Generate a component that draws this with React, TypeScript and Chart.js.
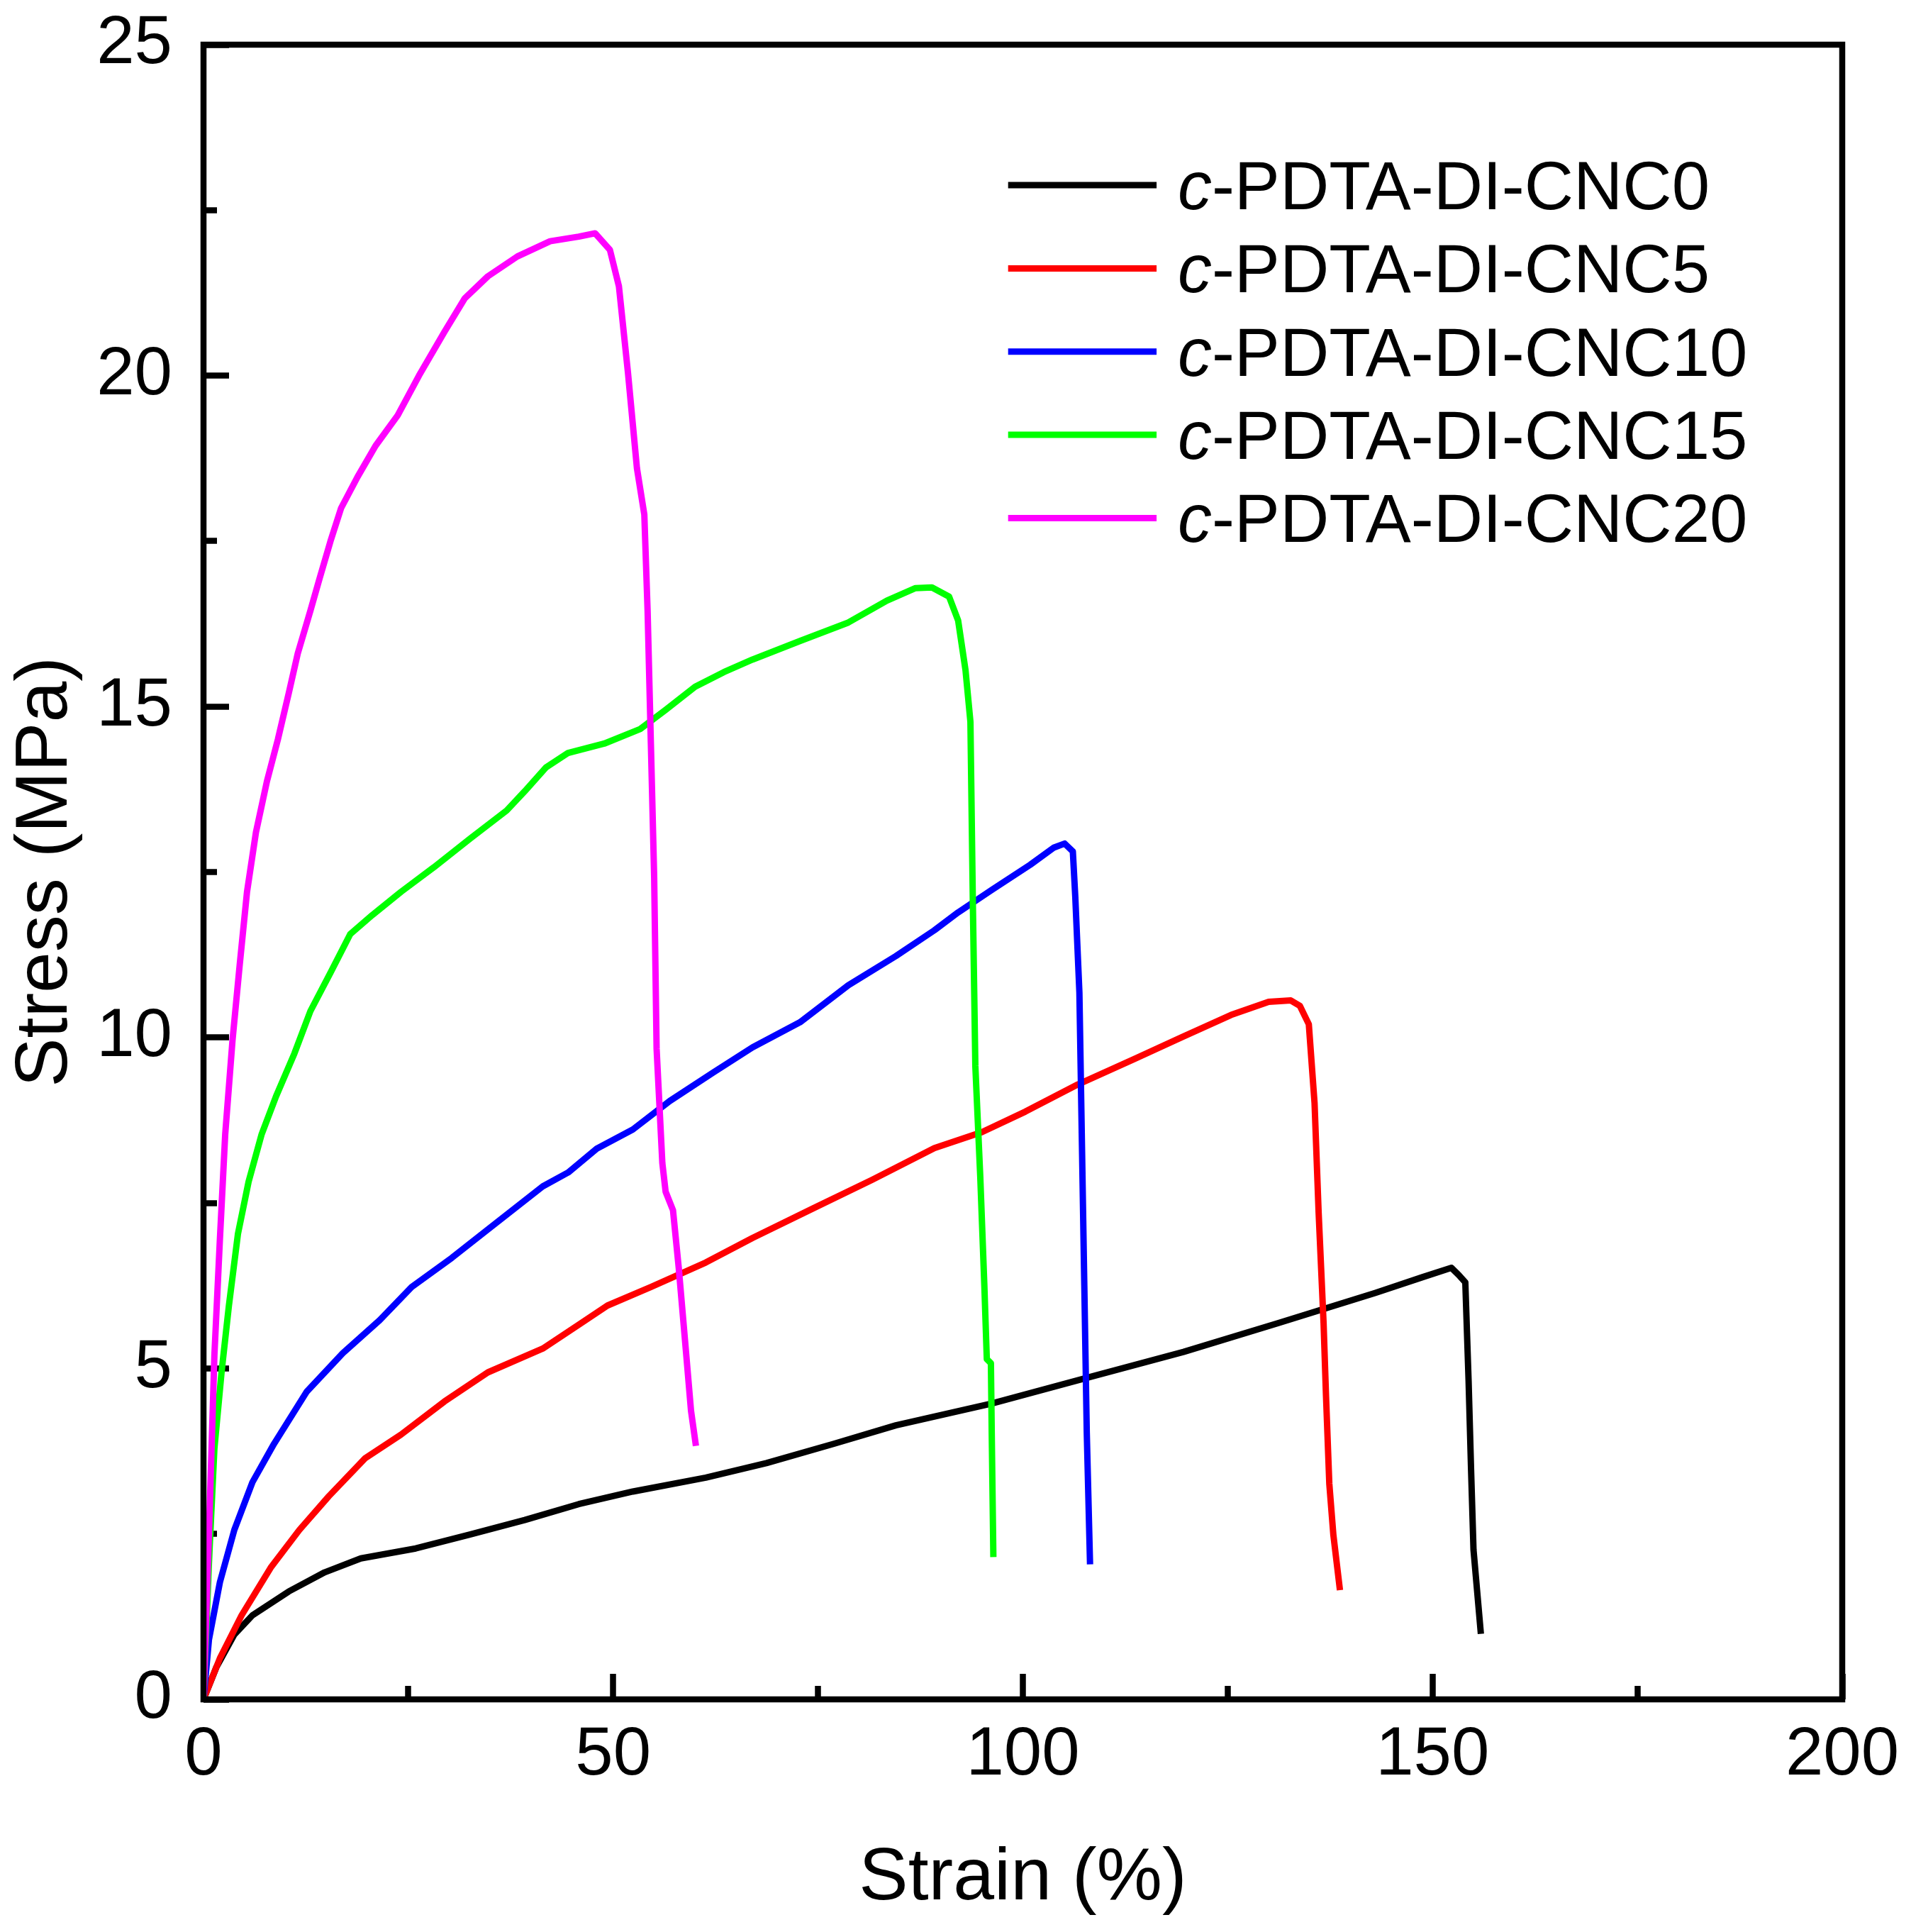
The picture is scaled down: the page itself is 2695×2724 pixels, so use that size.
import { useEffect, useRef } from 'react';
import { Chart, registerables } from 'chart.js';

Chart.register(...registerables);

const FONT = '"Liberation Sans", Arial, Helvetica, sans-serif';

// series names and colours (legend order)
const seriesNames = ['c-PDTA-DI-CNC0', 'c-PDTA-DI-CNC5', 'c-PDTA-DI-CNC10', 'c-PDTA-DI-CNC15', 'c-PDTA-DI-CNC20'];
const seriesColors = ['#000000', '#ff0000', '#0000ff', '#00ff00', '#ff00ff'];

// strain (%) / stress (MPa)
const cnc0Strain = [0, 1.55, 3.76, 5.97, 10.4, 14.8, 19.2, 25.9, 32.5, 39.2, 45.8, 52.4, 61.3, 68.7, 76.9, 84.5, 96.2, 107.9, 119.6, 131.3, 143.0, 148.8, 152.3, 153.2, 154.0, 154.4, 154.7, 155.0, 155.9];
const cnc0Stress = [0, 0.48, 0.98, 1.27, 1.63, 1.92, 2.13, 2.28, 2.49, 2.71, 2.95, 3.14, 3.35, 3.57, 3.86, 4.14, 4.47, 4.86, 5.25, 5.69, 6.14, 6.38, 6.52, 6.41, 6.3, 4.81, 3.48, 2.26, 0.99];

const cnc5Strain = [0, 2.0, 4.65, 8.2, 11.7, 15.3, 19.7, 24.1, 29.4, 34.7, 41.4, 45.8, 49.3, 54.6, 61.3, 67.0, 74.6, 81.6, 89.2, 95.0, 100.3, 106.7, 113.7, 119.5, 125.4, 130.0, 132.7, 133.8, 134.9, 135.6, 136.1, 136.7, 137.0, 137.4, 137.9, 138.7];
const cnc5Stress = [0, 0.62, 1.27, 1.99, 2.56, 3.07, 3.64, 4.0, 4.5, 4.94, 5.3, 5.66, 5.95, 6.23, 6.6, 6.97, 7.43, 7.85, 8.33, 8.57, 8.88, 9.29, 9.68, 10.01, 10.34, 10.54, 10.56, 10.48, 10.2, 9.01, 7.35, 5.69, 4.58, 3.26, 2.48, 1.65];

const cnc10Strain = [0, 0.66, 2.0, 3.76, 5.97, 8.6, 12.6, 17.0, 21.5, 25.4, 30.3, 34.7, 41.4, 44.5, 48.0, 52.4, 56.9, 62.2, 67.0, 72.8, 78.7, 84.5, 89.2, 92.1, 96.2, 100.9, 103.8, 105.1, 106.1, 106.4, 106.9, 107.2, 107.5, 107.8, 108.2];
const cnc10Stress = [0, 0.9, 1.77, 2.56, 3.28, 3.86, 4.65, 5.23, 5.73, 6.23, 6.67, 7.1, 7.75, 7.96, 8.32, 8.61, 9.04, 9.47, 9.85, 10.23, 10.79, 11.23, 11.62, 11.89, 12.23, 12.61, 12.87, 12.93, 12.81, 12.12, 10.68, 8.46, 6.25, 4.03, 2.04];

const cnc15Strain = [0, 0.66, 1.33, 2.2, 3.1, 4.2, 5.5, 7.1, 8.85, 11.1, 13.05, 15.5, 17.9, 20.6, 24.1, 28.1, 32.5, 37.0, 39.2, 41.8, 44.5, 48.9, 53.3, 56.4, 60.0, 63.5, 67.0, 72.8, 78.7, 83.4, 86.9, 88.9, 91.0, 92.1, 93.0, 93.6, 93.9, 94.2, 94.8, 95.3, 95.6, 96.1, 96.2, 96.4];
const cnc15Stress = [0, 2.06, 3.79, 4.94, 5.95, 7.03, 7.82, 8.54, 9.11, 9.76, 10.4, 10.98, 11.56, 11.85, 12.2, 12.57, 13.0, 13.43, 13.72, 14.08, 14.3, 14.44, 14.66, 14.95, 15.3, 15.52, 15.71, 15.99, 16.27, 16.6, 16.79, 16.8, 16.66, 16.3, 15.55, 14.77, 12.0, 9.57, 7.9, 6.25, 5.14, 5.08, 4.03, 2.15];

const cnc20Strain = [0, 0.66, 1.33, 2.0, 2.65, 3.54, 4.42, 5.31, 6.4, 7.74, 9.07, 10.4, 11.5, 13.05, 14.2, 15.5, 16.8, 18.8, 21.0, 23.7, 26.3, 29.4, 31.9, 34.7, 38.3, 42.3, 45.8, 47.8, 49.6, 50.7, 51.8, 52.9, 53.8, 54.2, 54.6, 55.0, 55.3, 56.0, 56.4, 57.3, 58.0, 58.9, 59.5, 60.1];
const cnc20Stress = [0, 2.5, 5.2, 6.95, 8.54, 9.96, 11.1, 12.2, 13.1, 13.87, 14.5, 15.2, 15.8, 16.45, 16.95, 17.5, 18.0, 18.47, 18.94, 19.4, 20.0, 20.66, 21.17, 21.5, 21.8, 22.03, 22.1, 22.15, 21.9, 21.35, 20.05, 18.6, 17.9, 16.45, 14.44, 12.43, 9.83, 8.1, 7.67, 7.39, 6.52, 5.23, 4.36, 3.83];

const strainSeries = [cnc0Strain, cnc5Strain, cnc10Strain, cnc15Strain, cnc20Strain];
const stressSeries = [cnc0Stress, cnc5Stress, cnc10Stress, cnc15Stress, cnc20Stress];

// axis ticks
const xMajorTicks = [0, 50, 100, 150, 200];
const xMinorTicks = [25, 75, 125, 175];
const yMajorTicks = [0, 5, 10, 15, 20, 25];
const yMinorTicks = [2.5, 7.5, 12.5, 17.5, 22.5];

// keep chart.js from adding label overhang on top of the layout padding
const noEdgePadding = (s: any) => {
  s.paddingLeft = 0;
  s.paddingRight = 0;
  s.paddingTop = 0;
  s.paddingBottom = 0;
};

// box round the plot area
const framePlugin = {
  id: 'frame',
  afterDatasetsDraw(chart: any) {
    const { ctx, chartArea } = chart;
    const { left, top, right, bottom } = chartArea;
    ctx.save();
    ctx.strokeStyle = '#000';
    ctx.lineWidth = 8.5;
    ctx.lineJoin = 'miter';
    ctx.strokeRect(left, top, right - left, bottom - top);
    ctx.restore();
  },
};

// legend inside the plot, with the italic "c" prefix
const insetLegendPlugin = {
  id: 'insetLegend',
  afterDraw(chart: any) {
    const { ctx, chartArea } = chart;
    const w = chartArea.right - chartArea.left;
    const h = chartArea.bottom - chartArea.top;
    const x1 = chartArea.left + w * 0.491;
    const x2 = chartArea.left + w * 0.5816;
    const tx = chartArea.left + w * 0.5945;
    ctx.save();
    chart.data.datasets.forEach((ds: any, i: number) => {
      const y = chartArea.top + h * (0.0849 + i * 0.0503);
      ctx.strokeStyle = ds.borderColor;
      ctx.lineWidth = 9;
      ctx.lineCap = 'butt';
      ctx.beginPath();
      ctx.moveTo(x1, y);
      ctx.lineTo(x2, y);
      ctx.stroke();

      const label: string = ds.label;
      const baseline = y + 34;
      ctx.fillStyle = '#000';
      ctx.textBaseline = 'alphabetic';
      ctx.textAlign = 'left';
      ctx.font = `italic 96px ${FONT}`;
      const head = label.slice(0, 1);
      ctx.fillText(head, tx, baseline);
      const hw = ctx.measureText(head).width;
      ctx.font = `96px ${FONT}`;
      ctx.fillText(label.slice(1), tx + hw, baseline);
    });
    ctx.restore();
  },
};

const StressStrainChart = () => {
  const canvasRef = useRef<HTMLCanvasElement | null>(null);

  useEffect(() => {
    if (!canvasRef.current) return;
    document.body.style.margin = '0';

    const datasets = seriesNames.map((name, i) => ({
      label: name,
      data: strainSeries[i].map((x, j) => ({ x, y: stressSeries[i][j] })),
      borderColor: seriesColors[i],
      backgroundColor: seriesColors[i],
      borderWidth: 9,
      pointRadius: 0,
      tension: 0,
      fill: false,
      borderJoinStyle: 'round' as const,
      order: seriesNames.length - 1 - i, // CNC20 drawn on top
    }));

    const tickFont = { family: FONT, size: 96 };
    const titleFont = { family: FONT, size: 104 };
    const tickGrid = (len: number) => ({
      drawOnChartArea: false,
      drawTicks: true,
      tickLength: len,
      tickWidth: 8.5,
      tickColor: '#000',
    });

    const chart = new Chart(canvasRef.current, {
      type: 'line',
      data: { datasets },
      options: {
        animation: false,
        responsive: false,
        devicePixelRatio: 1,
        events: [],
        layout: { padding: { left: 0, top: 63, right: 97, bottom: 0 } },
        plugins: {
          legend: { display: false },
          tooltip: { enabled: false },
        },
        scales: {
          x: {
            type: 'linear',
            position: 'bottom',
            min: 0,
            max: 200,
            weight: 1,
            afterBuildTicks: (s: any) => {
              s.ticks = xMajorTicks.map((v) => ({ value: v }));
            },
            afterFit: (s: any) => {
              s.height = 328;
              noEdgePadding(s);
            },
            ticks: { color: '#000', font: tickFont, padding: 58, maxRotation: 0, autoSkip: false },
            grid: tickGrid(-36),
            border: { display: false },
            title: {
              display: true,
              text: 'Strain (%)',
              color: '#000',
              font: titleFont,
              padding: { top: 0, bottom: 12 },
            },
          },
          xMinor: {
            type: 'linear',
            position: 'bottom',
            min: 0,
            max: 200,
            weight: 0,
            afterBuildTicks: (s: any) => {
              s.ticks = xMinorTicks.map((v) => ({ value: v }));
            },
            afterFit: (s: any) => {
              s.height = 0;
              noEdgePadding(s);
            },
            ticks: { display: false },
            grid: tickGrid(-19),
            border: { display: false },
          },
          y: {
            type: 'linear',
            position: 'left',
            min: 0,
            max: 25,
            weight: 1,
            afterBuildTicks: (s: any) => {
              s.ticks = yMajorTicks.map((v) => ({ value: v }));
            },
            afterFit: (s: any) => {
              s.width = 287;
              noEdgePadding(s);
            },
            ticks: { color: '#000', font: tickFont, padding: 80, autoSkip: false },
            grid: tickGrid(-36),
            border: { display: false },
            title: {
              display: true,
              text: 'Stress (MPa)',
              color: '#000',
              font: titleFont,
              padding: { top: 3, bottom: 0 },
            },
          },
          yMinor: {
            type: 'linear',
            position: 'left',
            min: 0,
            max: 25,
            weight: 0,
            afterBuildTicks: (s: any) => {
              s.ticks = yMinorTicks.map((v) => ({ value: v }));
            },
            afterFit: (s: any) => {
              s.width = 0;
              noEdgePadding(s);
            },
            ticks: { display: false },
            grid: tickGrid(-19),
            border: { display: false },
          },
        },
      } as any,
      plugins: [framePlugin, insetLegendPlugin],
    });

    return () => {
      chart.destroy();
    };
  }, []);

  return (
    <div style={{ position: 'absolute', left: 0, top: 0, width: '2695px', height: '2724px', background: '#fff' }}>
      <canvas ref={canvasRef} width={2695} height={2724} style={{ display: 'block' }} />
    </div>
  );
};

export default function App() {
  return <StressStrainChart />;
}
